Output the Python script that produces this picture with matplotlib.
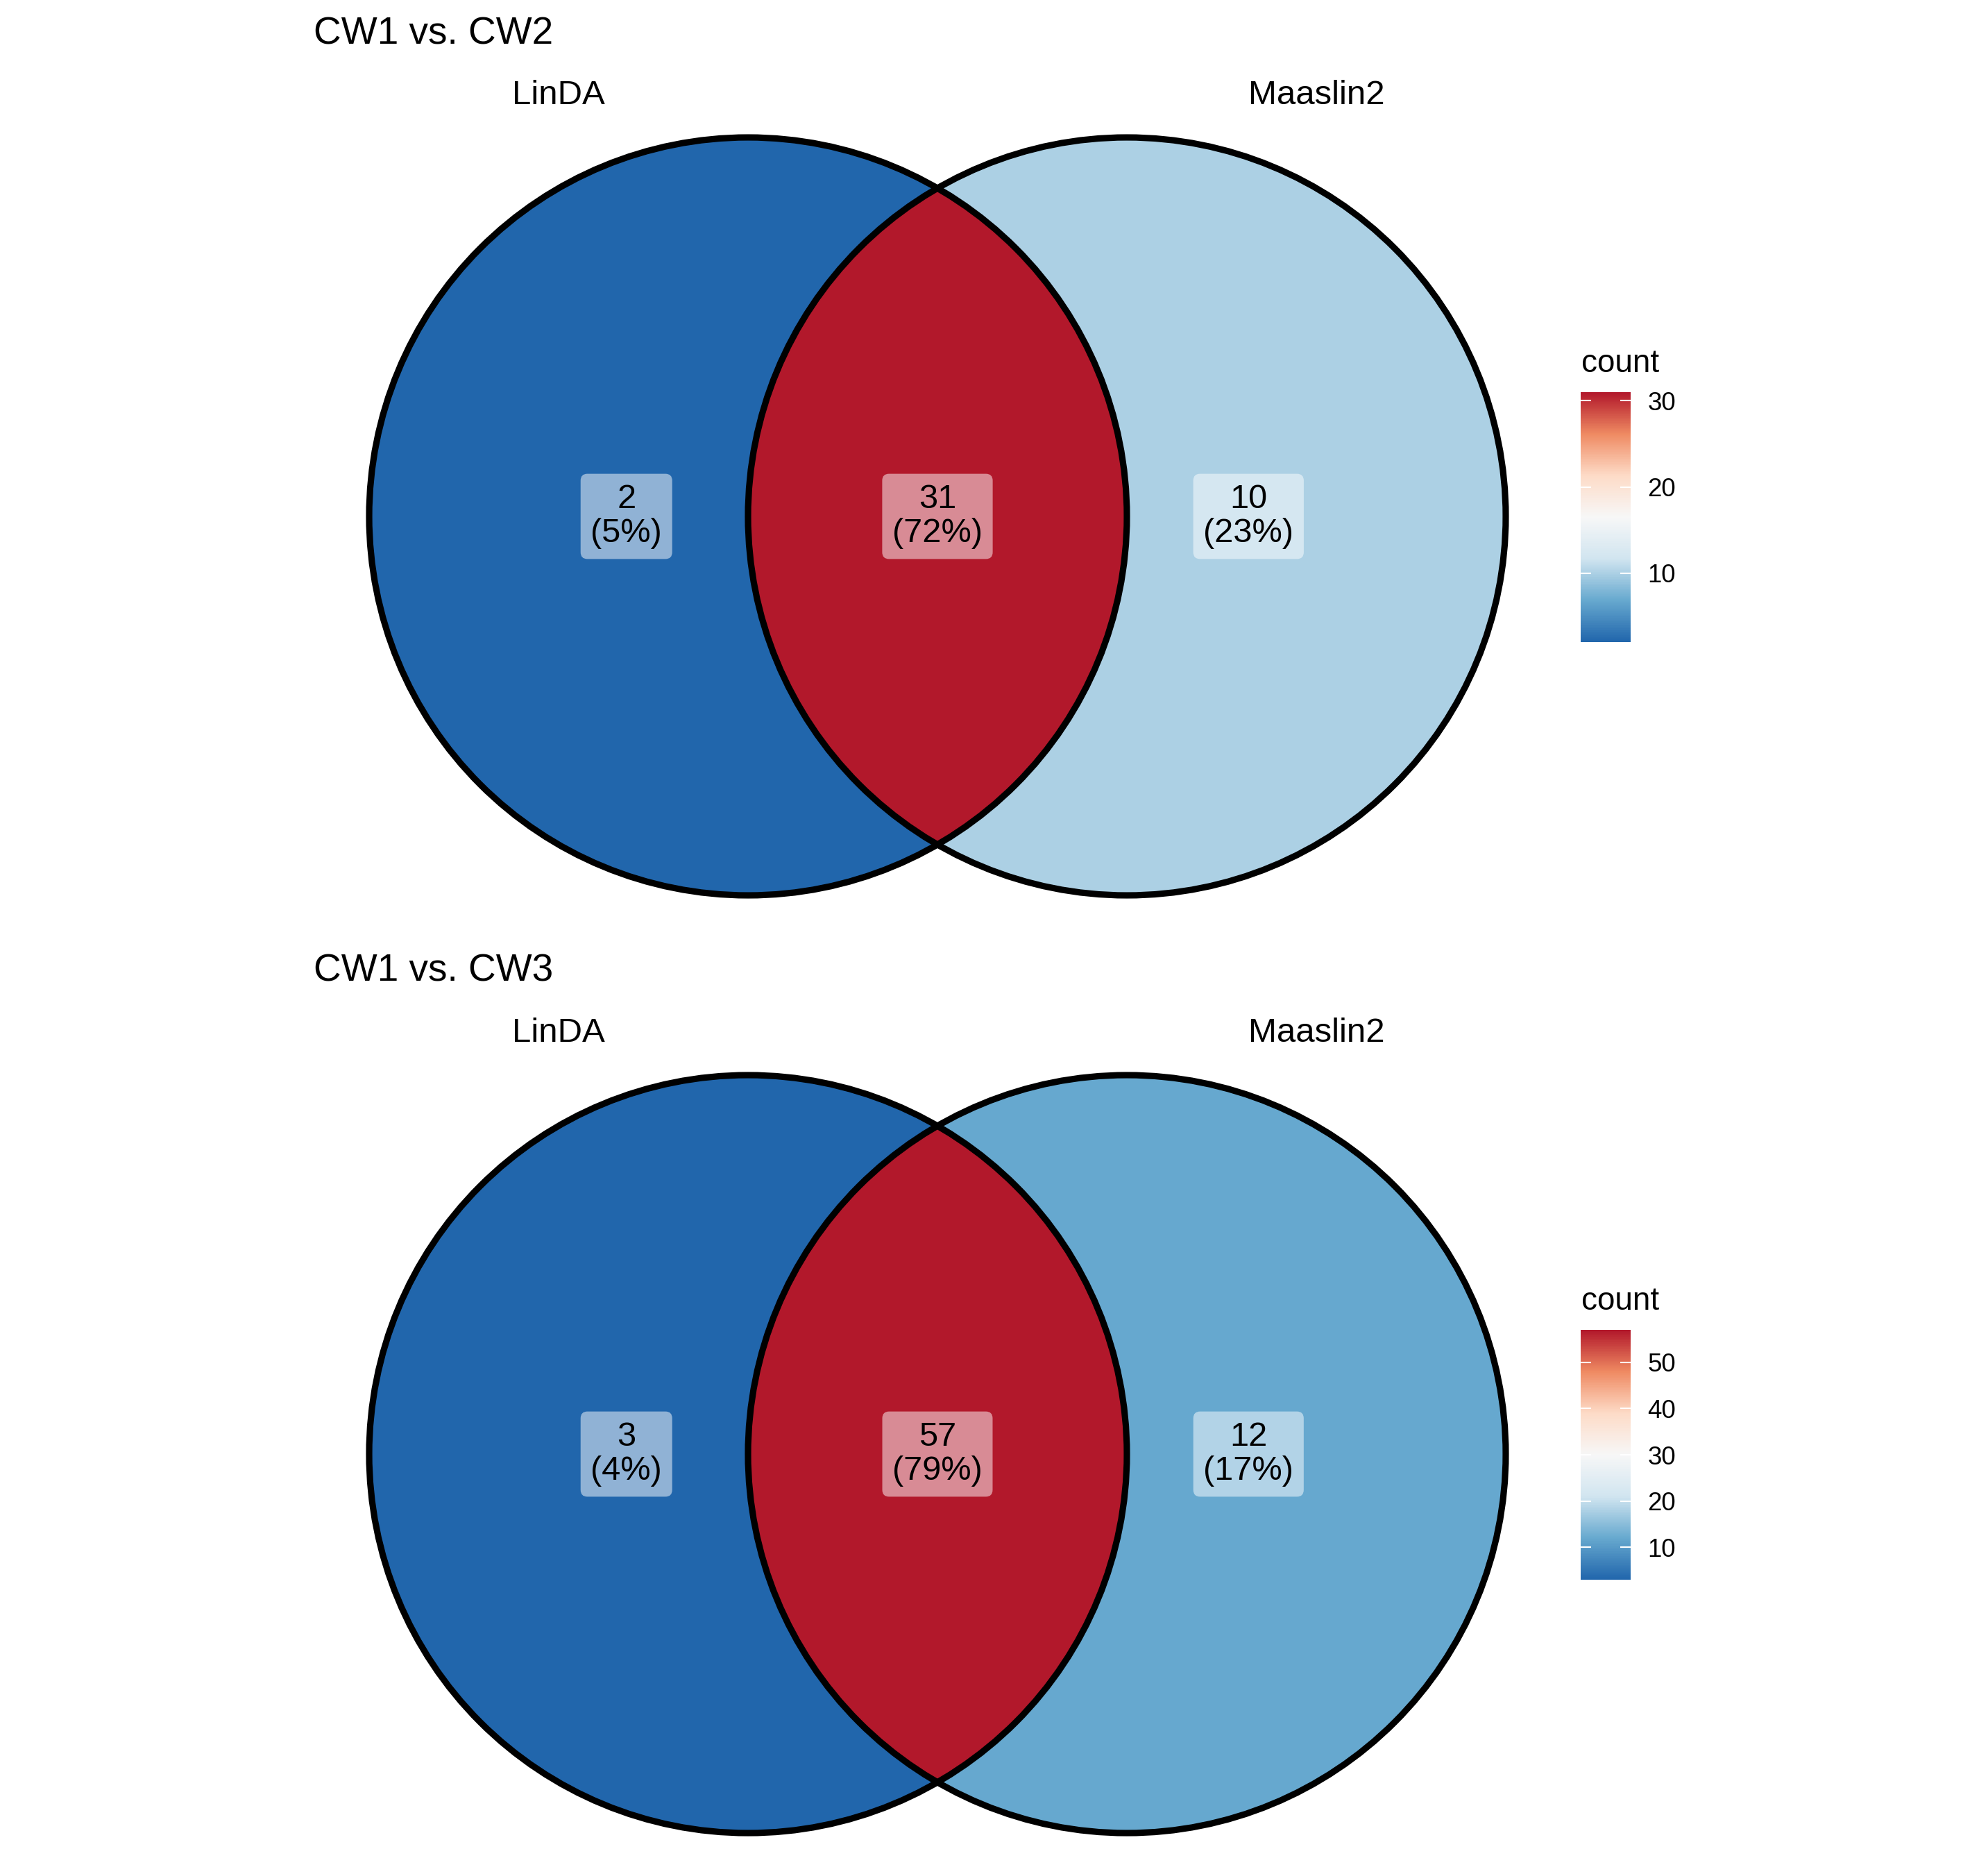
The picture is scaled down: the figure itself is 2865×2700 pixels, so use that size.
import numpy as np
import matplotlib
matplotlib.use("Agg")
import matplotlib.pyplot as plt
from matplotlib.patches import Circle, Polygon
from matplotlib.colors import LinearSegmentedColormap, Normalize
from matplotlib.cm import ScalarMappable

plt.rcParams['font.family'] = ['Liberation Sans', 'DejaVu Sans']

# data
titles = ["CW1 vs. CW2", "CW1 vs. CW3"]
set_names = ["LinDA", "Maaslin2"]
only_linda = [2, 3]
shared = [31, 57]
only_maaslin = [10, 12]

# RdBu (7 class), low = blue, high = red
rdbu = ["#2166AC", "#67A9CF", "#D1E5F0", "#F7F7F7", "#FDDBC7", "#EF8A62", "#B2182B"]
cmap = LinearSegmentedColormap.from_list("rdbu7", rdbu)

W, H = 2865, 2700
fig = plt.figure(figsize=(W / 300, H / 300), dpi=300)

# layout in pixels
r_px = 546
cx_px = 1078
cy_px = 744
panel_h = 1351
axes_w = 2250

# two circles of radius 1, centres 1 apart
d = 1.0
alpha = np.arccos(d / 2)
lens_area = 2 * alpha - np.sin(2 * alpha)
left_x = -(d / 2) * lens_area / (np.pi - lens_area)
right_x = d - left_x

t1 = np.linspace(-alpha, alpha, 300)
t2 = np.linspace(np.pi - alpha, np.pi + alpha, 300)
lens = np.vstack([np.column_stack([np.cos(t1), np.sin(t1)]),
                  np.column_stack([d + np.cos(t2), np.sin(t2)])])

for i in range(2):
    py0 = i * panel_h
    ph = min(panel_h, H - py0)
    cy = cy_px + py0
    ax = fig.add_axes([0, 1 - (py0 + ph) / H, axes_w / W, ph / H])
    ax.set_xlim((0 - cx_px) / r_px, (axes_w - cx_px) / r_px)
    ax.set_ylim((cy - (py0 + ph)) / r_px, (cy - py0) / r_px)
    ax.axis('off')

    counts = [only_linda[i], shared[i], only_maaslin[i]]
    norm = Normalize(min(counts), max(counts))

    ax.add_patch(Circle((0, 0), 1, fc=cmap(norm(counts[0])), ec='none'))
    ax.add_patch(Circle((d, 0), 1, fc=cmap(norm(counts[2])), ec='none'))
    ax.add_patch(Polygon(lens, closed=True, fc=cmap(norm(counts[1])), ec='none'))
    for x0 in (0, d):
        ax.add_patch(Circle((x0, 0), 1, fill=False, ec='black', lw=2.2))

    total = sum(counts)
    for x, c in zip([left_x, d / 2, right_x], counts):
        ax.text(x, 0, f"{c}\n({c / total:.0%})", ha='center', va='center',
                fontsize=11.7, linespacing=1.1,
                bbox=dict(boxstyle='round,pad=0.3,rounding_size=0.2',
                          fc='white', ec='none', alpha=0.5))

    # set names and title
    ax.text(-0.5, (cy_px - 150) / r_px, set_names[0], ha='center', va='baseline', fontsize=11.8)
    ax.text(d + 0.5, (cy_px - 150) / r_px, set_names[1], ha='center', va='baseline', fontsize=11.8)
    ax.text((452 - cx_px) / r_px, (cy_px - 63) / r_px, titles[i],
            ha='left', va='baseline', fontsize=13.2)

    # colour bar
    cax = fig.add_axes([2278 / W, 1 - (py0 + 925) / H, 72 / W, 360 / H])
    cb = fig.colorbar(ScalarMappable(norm=norm, cmap=cmap), cax=cax)
    cb.set_ticks(np.arange(10, max(counts) + 1, 10))
    cb.outline.set_visible(False)
    cax.tick_params(direction='in', length=3.6, width=0.5, color='white',
                    left=True, right=True, labelleft=False, labelright=True,
                    labelsize=8.8, pad=5.8)
    fig.text(2279 / W, 1 - (py0 + 536) / H, "count", ha='left', va='baseline', fontsize=11)

fig.savefig("out.png", dpi=300)
